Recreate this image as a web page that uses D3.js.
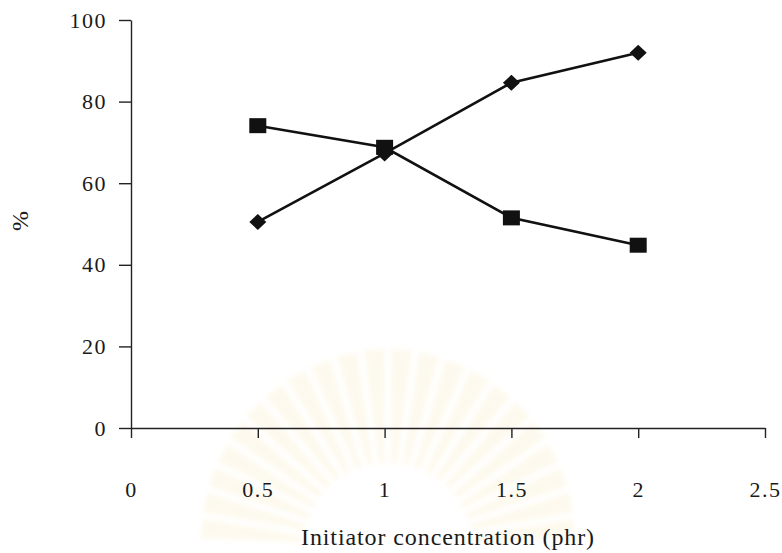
<!DOCTYPE html>
<html>
<head>
<meta charset="utf-8">
<script src="https://cdn.jsdelivr.net/npm/d3@7"></script>
<style>
  body { margin: 0; background: #fff; }
  text { font-family: "Liberation Serif", "Times New Roman", serif; fill: #1a1a1a; }
</style>
</head>
<body>
<svg id="vis" width="782" height="553"></svg>
<script>
// data
var concentration = [0.5, 1, 1.5, 2];
var diamondSeries = [50.5, 67.3, 84.6, 92.0];
var squareSeries = [74.1, 68.8, 51.5, 44.8];
var xTicks = [0, 0.5, 1, 1.5, 2, 2.5];
var yTicks = [0, 20, 40, 60, 80, 100];

var canvas = d3.select("#vis");

var xScale = d3.scaleLinear().domain([0, 2.5]).range([131, 765]);
var yScale = d3.scaleLinear().domain([0, 100]).range([428, 20]);

// faint watermark behind the plot
canvas.append("defs").append("filter").attr("id", "soft")
    .append("feGaussianBlur").attr("stdDeviation", 2.5);
var mark = canvas.append("g")
    .attr("transform", "translate(388,548)")
    .attr("filter", "url(#soft)");
d3.range(-84, 85, 8).forEach(function(a){
    var r0 = 85, r1 = 200 - Math.abs(a) * 0.15;
    var t = a * Math.PI / 180, w = 2.0 * Math.PI / 180;
    var p = [[Math.sin(t - w) * r0, -Math.cos(t - w) * r0],
             [Math.sin(t - w * 1.5) * r1, -Math.cos(t - w * 1.5) * r1],
             [Math.sin(t + w * 1.5) * r1, -Math.cos(t + w * 1.5) * r1],
             [Math.sin(t + w) * r0, -Math.cos(t + w) * r0]];
    mark.append("path")
        .attr("d", d3.line().curve(d3.curveLinearClosed)(p))
        .style("fill", "#f3dc98")
        .style("opacity", 0.16);
});

// axes
var yAxis = canvas.append("g")
    .attr("transform", "translate(131,0)")
    .call(d3.axisLeft(yScale).tickValues(yTicks).tickSize(12).tickSizeOuter(0).tickPadding(12));

var xAxis = canvas.append("g")
    .attr("transform", "translate(0,428)")
    .call(d3.axisBottom(xScale).tickValues(xTicks).tickSize(10).tickSizeOuter(0).tickPadding(43)
        .tickFormat(function(d){ return d; }));

[yAxis, xAxis].forEach(function(ax){
    ax.selectAll("path, line").style("stroke", "#222").style("stroke-width", 1.4);
    ax.selectAll("text")
        .style("font-family", '"Liberation Serif", serif')
        .style("font-size", "22px")
        .style("letter-spacing", "1.5px")
        .style("fill", "#1a1a1a");
});

function plotLine(canvas, xs, ys, color){
    return canvas.append("path")
        .datum(d3.zip(xs, ys))
        .attr("fill", "none")
        .attr("stroke", color)
        .attr("stroke-width", 2.6)
        .attr("d", d3.line()
            .x(function(d){ return xScale(d[0]); })
            .y(function(d){ return yScale(d[1]); }));
}

plotLine(canvas, concentration, diamondSeries, "#111");
plotLine(canvas, concentration, squareSeries, "#111");

// markers
canvas.selectAll(".sq")
    .data(d3.zip(concentration, squareSeries))
    .enter().append("rect")
    .attr("x", function(d){ return xScale(d[0]) - 8.5; })
    .attr("y", function(d){ return yScale(d[1]) - 7.5; })
    .attr("width", 17)
    .attr("height", 15)
    .style("fill", "#111");

canvas.selectAll(".dm")
    .data(d3.zip(concentration, diamondSeries))
    .enter().append("path")
    .attr("transform", function(d){ return "translate(" + xScale(d[0]) + "," + yScale(d[1]) + ")"; })
    .attr("d", "M0,-8L8.5,0L0,8L-8.5,0Z")
    .style("fill", "#111");

// axis titles
canvas.append("text")
    .attr("text-anchor", "middle")
    .attr("x", 448)
    .attr("y", 545)
    .style("font-size", "24px")
    .style("letter-spacing", "0.9px")
    .text("Initiator concentration (phr)");

canvas.append("text")
    .attr("text-anchor", "middle")
    .attr("transform", "translate(28,221) rotate(-90)")
    .style("font-size", "24px")
    .text("%");
</script>
</body>
</html>
